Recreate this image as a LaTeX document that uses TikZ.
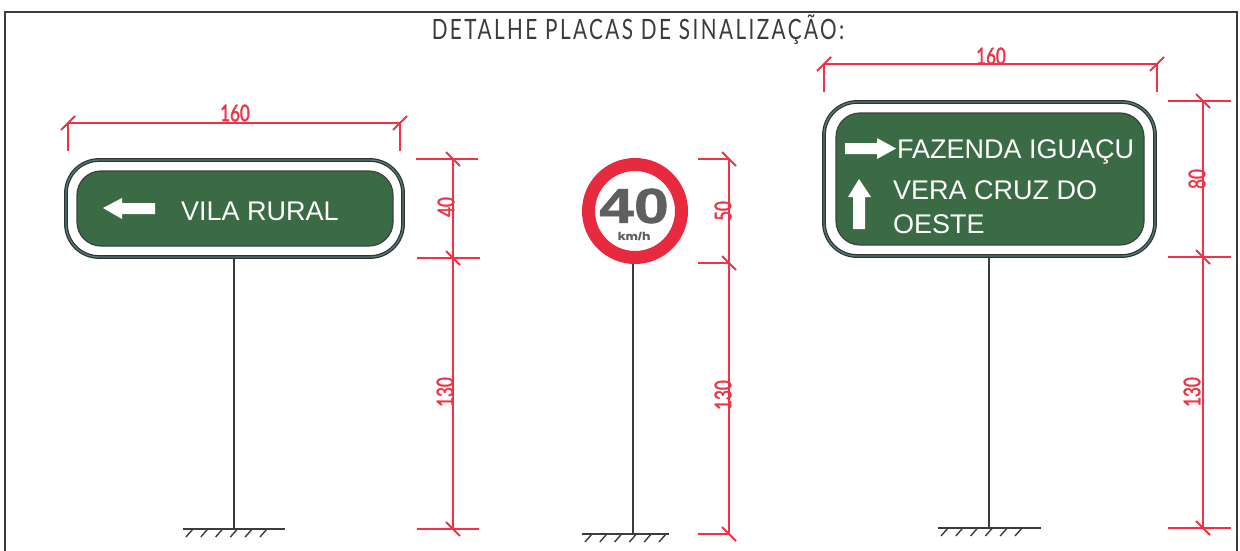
\documentclass[tikz,border=0pt]{standalone}
\usepackage{fontspec}
\setmainfont{Liberation Sans}
\newfontfamily\cadfont[FakeStretch=0.74,LetterSpace=8.7]{Lato}
\newfontfamily\dimfont[FakeStretch=0.74,FakeBold=1.6]{Lato}
\newfontfamily\widefont[FakeStretch=1.28,FakeBold=1.2]{Liberation Sans}
\definecolor{signgreen}{RGB}{58,107,68}
\definecolor{signedge}{RGB}{42,52,54}
\definecolor{signband}{RGB}{88,122,118}
\definecolor{dimred}{RGB}{240,50,70}
\definecolor{ringred}{RGB}{232,42,62}
\definecolor{digitgray}{RGB}{95,95,95}
\definecolor{inkgray}{RGB}{60,60,60}
\usetikzlibrary{calc}
\tikzset{
  x=1pt,y=-1pt,
  frameline/.style={draw=inkgray,line width=1.6pt},
  postline/.style={draw=inkgray,line width=1.5pt},
  hatchline/.style={draw=inkgray,line width=1.4pt},
  dimline/.style={draw=dimred,line width=2pt},
  dimtext/.style={text=dimred,font=\dimfont\fontsize{23}{23}\selectfont,inner sep=0pt},
  signouter/.style={draw=signedge,fill=white,line width=3.8pt,rounded corners=33pt},
  signband/.style={draw=signband,line width=1.3pt,rounded corners=33pt},
  signinner/.style={draw=black!75,fill=signgreen,line width=1.2pt,rounded corners=24pt},
  signtext/.style={text=white,font=\fontsize{27}{27}\selectfont,inner sep=0pt,anchor=base west},
  whitearrow/.style={fill=white,draw=none},
}
\newcommand{\hdim}[4]{% x1 x2 y ybottom
  \draw[dimline] (#1,#4) -- (#1,#3) -- (#2,#3) -- (#2,#4);
  \draw[dimline] ($(#1,#3)+(-7,7)$) -- ($(#1,#3)+(7,-7)$);
  \draw[dimline] ($(#2,#3)+(-7,7)$) -- ($(#2,#3)+(7,-7)$);
}
\newcommand{\vtick}[4]{% x y xleft xright
  \draw[dimline] (#3,#2) -- (#4,#2);
  \draw[dimline] ($(#1,#2)+(-7,-7)$) -- ($(#1,#2)+(7,7)$);
}
\newcommand{\ground}[3]{% x1 x2 y
  \draw[hatchline] (#1,#3) -- (#2,#3);
  \foreach \k in {0,...,5}
    \draw[hatchline] ($(#1,#3)+(3+14.8*\k,8)$) -- ($(#1,#3)+(10+14.8*\k,0)$);
}
\begin{document}
\begin{tikzpicture}
\useasboundingbox (0,0) rectangle (1240,551);
\fill[white] (0,0) rectangle (1240,551);
% frame
\coordinate (fa) at (5,556); \coordinate (fb) at (5,12);
\coordinate (fc) at (1237,12); \coordinate (fd) at (1237,556);
\draw[frameline] (fa) -- (fb) -- (fc) -- (fd);
\node[text=inkgray,font=\cadfont\fontsize{28}{28}\selectfont,inner sep=0pt] (title) at (638,30) {DETALHE PLACAS DE SINALIZAÇÃO:};
% left sign
\draw[postline] (234,258) coordinate (lp1) -- (234,529) coordinate (lp2);
\draw[signouter] (66,160) rectangle (403,257);
\draw[signband] (66,160) rectangle (403,257);
\draw[signinner] (77,171) rectangle (393,246);
\fill[whitearrow] (103,208) -- (122,198) -- (122,203) -- (155,203) -- (155,214) -- (122,214) -- (122,219) -- cycle;
\node[signtext] (vila) at (181,220) {VILA RURAL};
\ground{183}{285}{529}
\hdim{68}{400}{123}{151}
\node[dimtext] (d160a) at (235,113) {160};
\draw[dimline] (453,159) -- (453,529);
\vtick{453}{159}{416}{478}
\vtick{453}{258}{417}{480}
\vtick{453}{529}{417}{479}
\node[dimtext,rotate=90] (d40) at (446,207) {40};
\node[dimtext,rotate=90] (d130a) at (445,392) {130};
% centre sign
\draw[postline] (633,263) coordinate (cp1) -- (633,534) coordinate (cp2);
\node[circle,draw=ringred,fill=white,line width=13pt,minimum size=93pt,inner sep=0pt] (ring) at (635,211) {};
\node[text=digitgray,font=\widefont\bfseries\fontsize{49}{49}\selectfont,inner sep=0pt] (forty) at (634,206) {40};
\node[text=digitgray,font=\widefont\bfseries\fontsize{11}{11}\selectfont,inner sep=0pt] (kmh) at (634,236) {km/h};
\ground{582}{669}{534}
\draw[dimline] (729,159) -- (729,534);
\vtick{729}{159}{698}{730}
\vtick{729}{263}{698}{730}
\vtick{729}{534}{698}{730}
\node[dimtext,rotate=90] (d50) at (723,211) {50};
\node[dimtext,rotate=90] (d130b) at (723,395) {130};
% right sign
\draw[postline] (989,257) coordinate (rp1) -- (989,528) coordinate (rp2);
\draw[signouter] (824,102) rectangle (1155,256);
\draw[signband] (824,102) rectangle (1155,256);
\draw[signinner] (836,113) rectangle (1144,245);
\fill[whitearrow] (845,143) -- (877,143) -- (877,138) -- (896,148.5) -- (877,159) -- (877,154) -- (845,154) -- cycle;
\fill[whitearrow] (853,229) -- (853,197) -- (848,197) -- (859,179) -- (871,197) -- (865,197) -- (865,229) -- cycle;
\node[signtext] (faz) at (897,158) {FAZENDA IGUAÇU};
\node[signtext] (vera) at (893,199) {VERA CRUZ DO};
\node[signtext] (oeste) at (893,233) {OESTE};
\ground{938}{1041}{528}
\hdim{824}{1157}{64}{92}
\node[dimtext] (d160b) at (991,56) {160};
\draw[dimline] (1203,101) -- (1203,528);
\vtick{1203}{101}{1168}{1231}
\vtick{1203}{257}{1168}{1231}
\vtick{1203}{528}{1168}{1231}
\node[dimtext,rotate=90] (d80) at (1197,179) {80};
\node[dimtext,rotate=90] (d130c) at (1192,392) {130};
\end{tikzpicture}
\end{document}
